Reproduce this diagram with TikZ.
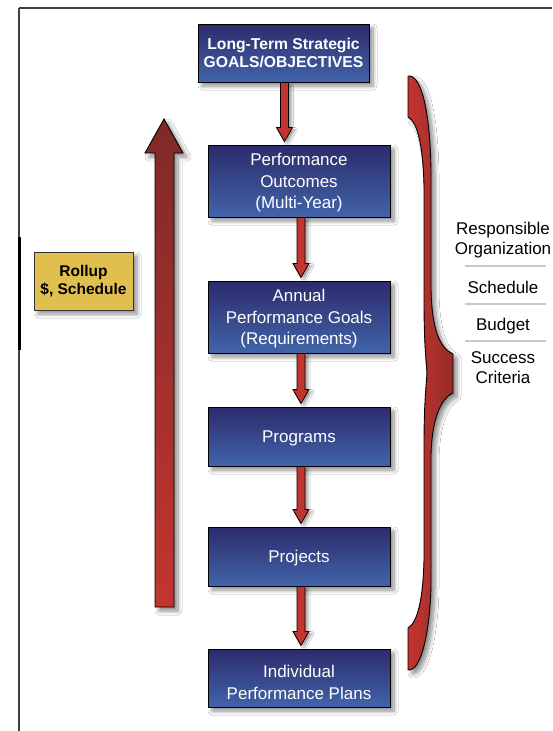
\documentclass[tikz,border=0pt]{standalone}
\usepackage{fontspec}
\setmainfont{Liberation Sans}
\usetikzlibrary{calc,shadows.blur}

\definecolor{navytop}{HTML}{2C2B6C}
\definecolor{navybot}{HTML}{4264A9}
\definecolor{arrred}{HTML}{C2352F}
\definecolor{arrdark}{HTML}{7E2A28}
\definecolor{bracedark}{HTML}{962C29}
\definecolor{gold}{HTML}{E0BF4F}
\definecolor{rulegray}{HTML}{C8C8C8}

\tikzset{
  softshadow/.style={blur shadow={shadow xshift=4pt, shadow yshift=-4pt,
      shadow blur radius=4pt, shadow blur steps=8, shadow opacity=45}},
  navybase/.style={draw=black, line width=0.9pt, top color=navytop,
      bottom color=navybot, text=white, align=center, inner sep=0pt,
      softshadow},
  stagebox/.style={navybase, minimum width=182pt, text depth=0pt,
      font=\fontsize{17}{21.5}\selectfont},
  goalbox/.style={navybase, minimum width=171pt, minimum height=58pt,
      font=\bfseries\fontsize{15.7}{18.5}\selectfont},
  rollbox/.style={draw=black!80, line width=0.8pt, fill=gold, align=center,
      inner sep=0pt, minimum width=99pt, minimum height=58pt,
      font=\bfseries\fontsize{15.5}{18.5}\selectfont, softshadow},
  flowarr/.style={draw=black, line width=0.8pt, fill=arrred,
      blur shadow={shadow xshift=3pt, shadow yshift=-2pt,
      shadow blur radius=2pt, shadow blur steps=5, shadow opacity=35}},
  bigarrow/.style={draw=black, line width=0.9pt, top color=arrdark,
      bottom color=arrred, softshadow},
  bracefill/.style={draw=black, line width=0.9pt, left color=arrred,
      right color=bracedark, softshadow},
  sidetext/.style={align=center, inner sep=0pt, text depth=0pt,
      font=\fontsize{17}{20}\selectfont},
  separator/.style={draw=rulegray, line width=1.4pt},
  framerule/.style={draw=black!75, line width=1.4pt},
}

% block arrow from the bottom of one box to the top of the next
\newcommand\flowarrow[3]{%
  \path[flowarr] let \p1=(#1.south), \p2=(#2.north) in
    (\x1+#3pt-4pt,\y1) -- (\x1+#3pt-4pt,\y2+17pt) -- (\x1+#3pt-8pt,\y2+17pt)
    -- (\x1+#3pt,\y2+3pt) -- (\x1+#3pt+8pt,\y2+17pt) -- (\x1+#3pt+4pt,\y2+17pt)
    -- (\x1+#3pt+4pt,\y1) -- cycle;}

\begin{document}
\begin{tikzpicture}[x=1pt, y=-1pt]
  \useasboundingbox[fill=white] (0,0) rectangle (552,731);

  % page frame
  \draw[framerule, line width=2pt] (19,8) -- (552,8);
  \draw[framerule] (19,8) -- (19,731);
  \draw[black, line width=3pt] (19,237) -- (19,350);

  % rollup arrow on the left
  \path[bigarrow] (155,607) -- (155,153) -- (145,153) -- (164,119)
    -- (183,153) -- (174,153) -- (174,607) -- cycle;

  % brace on the right
  \path[bracefill] (408,76) .. controls (421,74) and (430,110) .. (431,170)
    -- (431,290) .. controls (432,330) and (440,348) .. (453,354)
    -- (453,393) .. controls (440,399) and (432,420) .. (431,455)
    -- (431,585) .. controls (430,632) and (421,672) .. (408,670)
    -- (408,628) .. controls (418,622) and (423,598) .. (424,560)
    -- (424,445) .. controls (424,405) and (426,388) .. (427,373)
    .. controls (426,358) and (424,342) .. (424,300)
    -- (424,185) .. controls (423,148) and (418,122) .. (408,117) -- cycle;

  % boxes
  \node[goalbox] (goals) at (283.5,53) {Long-Term Strategic\\GOALS/OBJECTIVES};
  \node[stagebox, minimum height=72pt] (outcomes) at (299,181)
    {Performance\\Outcomes\\(Multi-Year)};
  \node[stagebox, minimum height=72pt] (annual) at (299,317)
    {Annual\\Performance Goals\\(Requirements)};
  \node[stagebox, minimum height=59pt] (programs) at (299,436.5) {Programs};
  \node[stagebox, minimum height=59pt] (projects) at (299,556.5) {Projects};
  \node[stagebox, minimum height=58pt, text height=42pt] (plans) at (299,678)
    {Individual\\Performance Plans};

  \node[rollbox] (rollup) at (83.5,281) {Rollup\\\$, Schedule};

  % arrows between boxes
  \flowarrow{goals}{outcomes}{1}
  \flowarrow{outcomes}{annual}{2}
  \flowarrow{annual}{programs}{2}
  \flowarrow{programs}{projects}{2}
  \flowarrow{projects}{plans}{2}

  % attribute list
  \node[sidetext] (resp) at (503,238) {Responsible\\Organization};
  \node[sidetext] (sched) at (503,287) {Schedule};
  \node[sidetext] (budget) at (503,324) {Budget};
  \node[sidetext] (success) at (503,368) {Success\\Criteria};
  \draw[separator] (465,266) -- (546,266);
  \draw[separator] (465,304) -- (546,304);
  \draw[separator] (465,341) -- (546,341);
\end{tikzpicture}
\end{document}
